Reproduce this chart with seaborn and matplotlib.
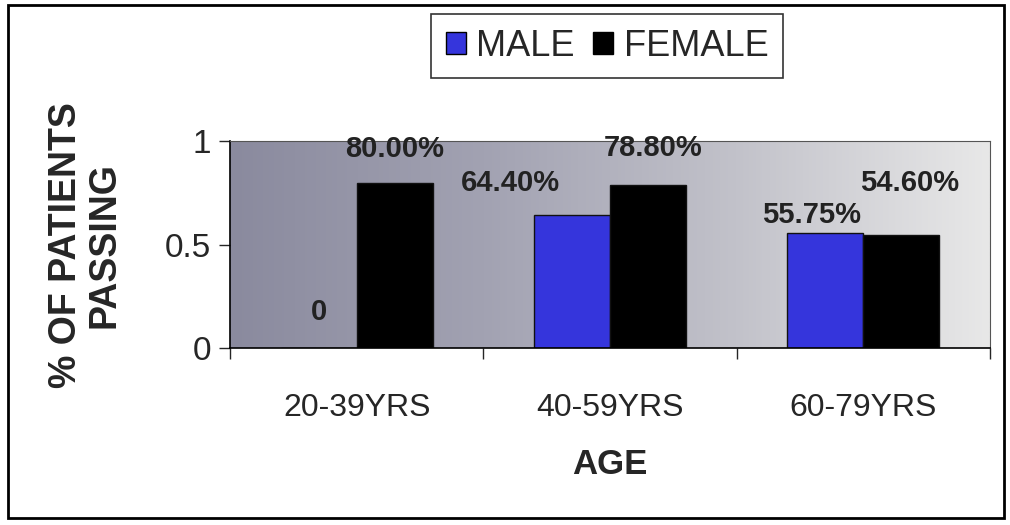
import numpy as np
import pandas as pd
import seaborn as sns
import matplotlib.pyplot as plt
from matplotlib.colors import LinearSegmentedColormap
from matplotlib.patches import Rectangle, Patch

# data
age_groups = ["20-39YRS", "40-59YRS", "60-79YRS"]
male = [0.0, 0.644, 0.5575]
female = [0.80, 0.788, 0.546]
male_labels = ["0", "64.40%", "55.75%"]
female_labels = ["80.00%", "78.80%", "54.60%"]

df = pd.DataFrame({
    "age": age_groups * 2,
    "sex": ["MALE"] * 3 + ["FEMALE"] * 3,
    "value": male + female,
})

sns.set_style("white")
plt.rcParams["font.family"] = ["Liberation Sans", "DejaVu Sans"]

fig = plt.figure(figsize=(10.1, 5.25), dpi=100)
ax = fig.add_axes([0.228, 0.337, 0.752, 0.394])

colors = {"MALE": "#3535dc", "FEMALE": "#000000"}
sns.barplot(data=df, x="age", y="value", hue="sex", hue_order=["MALE", "FEMALE"],
            palette=colors, saturation=1, width=0.6, edgecolor="#111111", linewidth=1,
            legend=False, ax=ax, zorder=2)

# speckled gray backdrop, dark on the left and light on the right
bg = LinearSegmentedColormap.from_list("bg", ["#8a8a9e", "#a2a2b2", "#c2c2ca", "#e8e8e8"])
ax.imshow(np.linspace(0, 1, 256).reshape(1, -1), cmap=bg, aspect="auto",
          extent=(0, 1, 0, 1), transform=ax.transAxes, zorder=0)
ax.set_xlim(-0.5, 2.5)
ax.set_ylim(0, 1)

# data labels (Excel placed them rather loosely)
nudges_male = [(0, 36), (-62, 32), (-14, 18)]
nudges_female = [(0, 34), (5, 37), (8, 52)]
for cont, labels, nudges in [(ax.containers[0], male_labels, nudges_male),
                             (ax.containers[1], female_labels, nudges_female)]:
    for bar, lab, (dx, dy) in zip(cont, labels, nudges):
        ax.annotate(lab, (bar.get_x() + bar.get_width() / 2, bar.get_height()),
                    xytext=(dx, dy), textcoords="offset pixels", ha="center", va="center",
                    fontsize=21, fontweight="bold", color="#222222", zorder=3)

ax.set_yticks([0, 0.5, 1])
ax.set_yticklabels(["0", "0.5", "1"])
ax.tick_params(axis="y", length=8, width=1, direction="out", labelsize=24, pad=6, left=True)
ax.set_xticks([-0.5, 0.5, 1.5, 2.5], minor=True)
ax.tick_params(axis="x", which="major", length=0, labelsize=23, pad=32)
ax.tick_params(axis="x", which="minor", length=8, width=1, direction="out", bottom=True)

for s in ["top", "right"]:
    ax.spines[s].set_color("#555555")
    ax.spines[s].set_linewidth(0.8)
for s in ["left", "bottom"]:
    ax.spines[s].set_color("black")
    ax.spines[s].set_linewidth(1.2)

ax.set_xlabel("AGE", fontsize=25, fontweight="bold", labelpad=18)
ax.set_ylabel("% OF PATIENTS\nPASSING", fontsize=27, fontweight="bold", labelpad=30,
              linespacing=1.1)

handles = [Patch(facecolor=colors["MALE"], edgecolor="black", label="MALE"),
           Patch(facecolor=colors["FEMALE"], edgecolor="black", label="FEMALE")]
leg = fig.legend(handles=handles, loc="center", bbox_to_anchor=(0.601, 0.912), ncol=2,
                 fontsize=26, frameon=True, fancybox=False, edgecolor="black",
                 handlelength=0.55, handleheight=0.55, handletextpad=0.3, columnspacing=0.5,
                 borderpad=0.4)
leg.get_frame().set_linewidth(1.2)

# outer border of the chart area
fig.patches.append(Rectangle((0.008, 0.014), 0.986, 0.976, transform=fig.transFigure,
                             fill=False, edgecolor="black", linewidth=2))

fig.savefig("out.png", dpi=100)
